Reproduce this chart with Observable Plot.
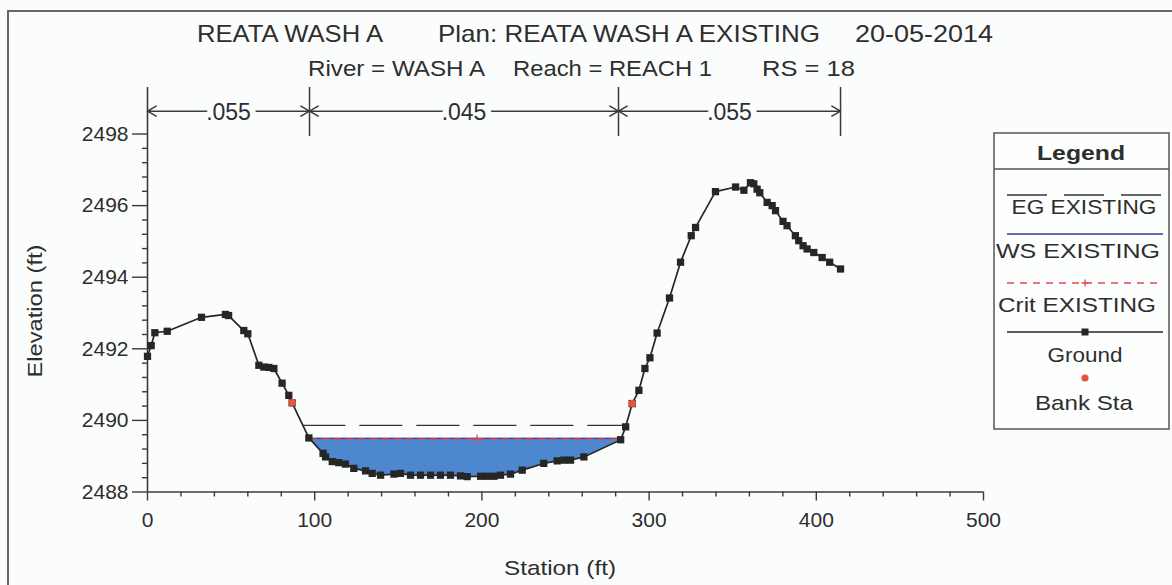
<!DOCTYPE html>
<html>
<head>
<meta charset="utf-8">
<script src="https://cdn.jsdelivr.net/npm/d3@7"></script>
<script src="https://cdn.jsdelivr.net/npm/@observablehq/plot@0.6"></script>
<style>
  body { margin: 0; background: #fbfdfd; font-family: "Liberation Sans", Arial, sans-serif; color: #2e2e2e; }
  #wrap { position: relative; width: 1172px; height: 585px; overflow: hidden; }
  #frame { position: absolute; left: 7px; top: 10px; width: 1200px; height: 620px; border-left: 2px solid #666; border-top: 2px solid #666; }
  #chart { position: absolute; left: 0; top: 0; }
  .overlay { position: absolute; left: 0; top: 0; pointer-events: none; }
</style>
</head>
<body>
<div id="wrap">
  <div id="frame"></div>
  <div id="chart"></div>
  <div id="texts" class="overlay"></div>
  <div id="legend" class="overlay"></div>
</div>
<script>
// ---------------- data ----------------
const stations = [0, 2.2, 4.4, 11.8, 32.3, 46.6, 48.5, 57.6, 60, 66.6, 69.6, 72.6, 75.6, 80.5, 84.5, 86.5,
  96.5, 105, 106.5, 110.5, 114.4, 118.4, 123.4, 130.4, 134.4, 139.4, 147.4, 151.3, 157.3, 163.3, 169.3,
  175.2, 181.2, 187.2, 191.2, 199.2, 203.2, 207.2, 211.1, 217.1, 224.1, 237, 245, 249, 253, 261, 283, 286,
  289.9, 293.9, 297.5, 300.5, 304.8, 312.2, 318.8, 325.2, 327.8, 339.7, 351.7, 356.7, 360.6, 362.6, 364.6,
  366.2, 370.6, 373.6, 375.6, 380.1, 382.5, 387.5, 389.5, 392.1, 394.5, 398.5, 403.5, 408, 414.5];
const elevations = [2491.79, 2492.09, 2492.45, 2492.49, 2492.88, 2492.96, 2492.93, 2492.51, 2492.42, 2491.54,
  2491.49, 2491.48, 2491.45, 2491.04, 2490.70, 2490.49,
  2489.51, 2489.08, 2488.98, 2488.85, 2488.82, 2488.78, 2488.66, 2488.59, 2488.52, 2488.47, 2488.50, 2488.52,
  2488.47, 2488.47, 2488.47, 2488.47, 2488.47, 2488.45, 2488.43, 2488.44, 2488.44, 2488.44, 2488.47, 2488.50,
  2488.61, 2488.80, 2488.87, 2488.89, 2488.89, 2488.98, 2489.46, 2489.82,
  2490.47, 2490.84, 2491.45, 2491.75, 2492.44, 2493.42, 2494.42, 2495.16, 2495.39, 2496.39, 2496.52, 2496.43,
  2496.64, 2496.61, 2496.46, 2496.36, 2496.09, 2496.00, 2495.86, 2495.56, 2495.44, 2495.16, 2495.02, 2494.88,
  2494.79, 2494.69, 2494.55, 2494.42, 2494.23];
const bankStations = [86.5, 289.9];
const bankElevations = [2490.49, 2490.47];
const egElevation = 2489.86;
const wsElevation = 2489.50;
const critElevation = 2489.48;
const nStations = [0, 96.9, 281.7, 414.5];
const nValues = [".055", ".045", ".055"];
const xTicks = [0, 100, 200, 300, 400, 500];
const yTicks = [2488, 2490, 2492, 2494, 2496, 2498];
const xMinorStep = 20;
const yMinorStep = 0.4;

// layout of the n-value annotation band (elevation units of the y scale)
const nBandBottom = 2497.93, nBandTop = 2499.3, nArrowLevel = 2498.64;

// ---------------- derived ----------------
const ground = stations.map((x, i) => ({x, y: elevations[i]}));
const banks = bankStations.map((x, i) => ({x, y: bankElevations[i]}));

function edges(level) {
  let l = null, r = null;
  for (let i = 0; i < ground.length - 1; i++) {
    const a = ground[i], b = ground[i + 1];
    if (l === null && a.y >= level && b.y < level) l = {i, x: a.x + (a.y - level) / (a.y - b.y) * (b.x - a.x)};
    if (a.y < level && b.y >= level) r = {i, x: a.x + (level - a.y) / (b.y - a.y) * (b.x - a.x)};
  }
  return {l, r};
}
const ws = edges(wsElevation);
const water = [
  {x: ws.l.x, y1: wsElevation, y2: wsElevation},
  ...ground.slice(ws.l.i + 1, ws.r.i + 1).map(d => ({x: d.x, y1: d.y, y2: wsElevation})),
  {x: ws.r.x, y1: wsElevation, y2: wsElevation}
];
const eg = edges(egElevation);
const cr = edges(critElevation);
const levelLine = (e, level) => [{x: e.l.x, y: level}, {x: e.r.x, y: level}];

const xMinor = d3.range(0, 500 + 1e-9, xMinorStep).filter(v => !xTicks.includes(v));
const yMinor = d3.range(0, 25).map(i => +(2488 + i * yMinorStep).toFixed(2)).filter(v => v <= 2498 && !yTicks.some(t => Math.abs(t - v) < 1e-6));

const nArrows = [];
const nLabels = [];
for (let i = 0; i < nValues.length; i++) {
  const mid = (nStations[i] + nStations[i + 1]) / 2;
  nArrows.push({x1: mid, x2: nStations[i]}, {x1: mid, x2: nStations[i + 1]});
  nLabels.push({x: mid, t: nValues[i]});
}

const ink = "#2e2e2e";
const axisInk = "#3a3a3a";
const chart = Plot.plot({
  width: 1172,
  height: 585,
  marginLeft: 147,
  marginRight: 189,
  marginTop: 87,
  marginBottom: 93.5,
  x: {domain: [0, 500]},
  y: {domain: [2488, 2499.3]},
  style: {background: "transparent", fontFamily: "'Liberation Sans', Arial, sans-serif", color: ink, overflow: "visible"},
  marks: [
    // water body
    Plot.areaY(water, {x: "x", y1: "y1", y2: "y2", fill: "#4d87cf", curve: "linear"}),
    // WS line
    Plot.line(levelLine(ws, wsElevation), {x: "x", y: "y", stroke: "#2c3c9c", strokeWidth: 1.3}),
    // Crit line
    Plot.line(levelLine(cr, critElevation), {x: "x", y: "y", stroke: "#e04a4a", strokeWidth: 1.3, strokeDasharray: "7,5"}),
    Plot.dot([{x: (cr.l.x + cr.r.x) / 2 + 7, y: critElevation}], {x: "x", y: "y", symbol: "plus", r: 3, stroke: "#e04a4a", strokeWidth: 1.2}),
    // EG line
    Plot.line(levelLine(eg, egElevation), {x: "x", y: "y", stroke: "#333", strokeWidth: 1.4, strokeDasharray: "42,15"}),
    // axes lines
    Plot.ruleY([2488], {stroke: axisInk, strokeWidth: 1.6}),
    Plot.ruleX([0], {y1: 2488, y2: nBandTop, stroke: axisInk, strokeWidth: 1.6}),
    // ticks
    Plot.axisY(yTicks, {anchor: "left", tickSize: 15, tickPadding: 4, fontSize: 21, label: null, tickFormat: d => String(d), stroke: axisInk, strokeWidth: 1.4}),
    Plot.axisY(yMinor, {anchor: "left", tickSize: 5, text: null, label: null, stroke: axisInk, strokeWidth: 1.4}),
    Plot.axisX(xTicks, {anchor: "bottom", tickSize: 9, tickPadding: 11, fontSize: 21, label: null, tickFormat: d => String(d), stroke: axisInk, strokeWidth: 1.4}),
    Plot.axisX(xMinor, {anchor: "bottom", tickSize: 5, text: null, label: null, stroke: axisInk, strokeWidth: 1.4}),
    // n-value band
    Plot.ruleX(nStations.slice(1), {y1: nBandBottom, y2: nBandTop, stroke: axisInk, strokeWidth: 1.5}),
    Plot.arrow(nArrows, {x1: "x1", x2: "x2", y1: nArrowLevel, y2: nArrowLevel, stroke: axisInk, strokeWidth: 1.5, headLength: 10, headAngle: 60, bend: 0}),
    Plot.text(nLabels, {x: "x", y: nArrowLevel, text: "t", fontSize: 23, fill: ink, stroke: "#fbfdfd", strokeWidth: 12, dy: 1}),
    // ground
    Plot.line(ground, {x: "x", y: "y", stroke: "#262626", strokeWidth: 1.7}),
    Plot.dot(ground, {x: "x", y: "y", symbol: "square", r: 4.1, fill: "#262626"}),
    // bank stations
    Plot.dot(banks, {x: "x", y: "y", r: 3.8, fill: "#e4553e"})
  ]
});
document.getElementById("chart").append(chart);

// ---------------- titles and axis labels (real text) ----------------
const NS = "http://www.w3.org/2000/svg";
function svgEl(tag, attrs, parent) {
  const e = document.createElementNS(NS, tag);
  for (const k in attrs) e.setAttribute(k, attrs[k]);
  if (parent) parent.append(e);
  return e;
}
function fitText(parent, str, o) {
  const t = svgEl("text", {x: o.x, y: o.y, "font-size": o.size, "font-family": "'Liberation Sans', Arial, sans-serif",
    fill: o.fill || ink, "text-anchor": o.anchor || "start", "font-weight": o.weight || "normal"}, parent);
  if (o.rotate) t.setAttribute("transform", `rotate(${o.rotate} ${o.x} ${o.y})`);
  if (o.width) { t.setAttribute("textLength", o.width); t.setAttribute("lengthAdjust", "spacingAndGlyphs"); }
  t.textContent = str;
  return t;
}
const titleSvg = svgEl("svg", {width: 1172, height: 585}, document.getElementById("texts"));
const titleParts = [
  {s: "REATA WASH A", x: 197, y: 42, size: 24, width: 186},
  {s: "Plan: REATA WASH A EXISTING", x: 438, y: 42, size: 24, width: 382},
  {s: "20-05-2014", x: 855, y: 42, size: 24, width: 138},
  {s: "River = WASH A", x: 308, y: 76, size: 22, width: 177},
  {s: "Reach = REACH 1", x: 513, y: 76, size: 22, width: 199},
  {s: "RS = 18", x: 762, y: 76, size: 22, width: 93}
];
for (const p of titleParts) fitText(titleSvg, p.s, p);
fitText(titleSvg, "Station (ft)", {x: 560, y: 575, size: 21, width: 112, anchor: "middle"});
fitText(titleSvg, "Elevation (ft)", {x: 42, y: 311, size: 21, width: 133, anchor: "middle", rotate: -90});

// ---------------- legend ----------------
const lg = document.getElementById("legend");
lg.style.left = "993px"; lg.style.top = "132px";
const ls = svgEl("svg", {width: 178, height: 299}, lg);
svgEl("rect", {x: 1, y: 1, width: 175, height: 296, fill: "#fdfefe", stroke: "#555", "stroke-width": 1.5}, ls);
fitText(ls, "Legend", {x: 88, y: 28, size: 21, weight: "bold", anchor: "middle", width: 88});
svgEl("line", {x1: 1, x2: 176, y1: 37, y2: 37, stroke: "#555", "stroke-width": 1.5}, ls);
svgEl("line", {x1: 14, x2: 170, y1: 63, y2: 63, stroke: "#333", "stroke-width": 1.3, "stroke-dasharray": "40,17"}, ls);
fitText(ls, "EG EXISTING", {x: 91, y: 82, size: 21, anchor: "middle", width: 145});
svgEl("line", {x1: 14, x2: 170, y1: 102, y2: 102, stroke: "#2c3c9c", "stroke-width": 1.3}, ls);
fitText(ls, "WS EXISTING", {x: 85, y: 126, size: 21, anchor: "middle", width: 164});
svgEl("line", {x1: 14, x2: 170, y1: 151, y2: 151, stroke: "#e04a4a", "stroke-width": 1.3, "stroke-dasharray": "7,6"}, ls);
svgEl("path", {d: "M92,147.5V154.5M88.5,151H95.5", stroke: "#e04a4a", "stroke-width": 1.3}, ls);
fitText(ls, "Crit EXISTING", {x: 84, y: 180, size: 21, anchor: "middle", width: 158});
svgEl("line", {x1: 14, x2: 170, y1: 200, y2: 200, stroke: "#262626", "stroke-width": 1.5}, ls);
svgEl("rect", {x: 88.5, y: 196.5, width: 7, height: 7, fill: "#262626"}, ls);
fitText(ls, "Ground", {x: 92, y: 230, size: 21, anchor: "middle", width: 75});
svgEl("circle", {cx: 92, cy: 246, r: 3.6, fill: "#e4553e"}, ls);
fitText(ls, "Bank Sta", {x: 91, y: 278, size: 21, anchor: "middle", width: 98});
</script>
</body>
</html>
